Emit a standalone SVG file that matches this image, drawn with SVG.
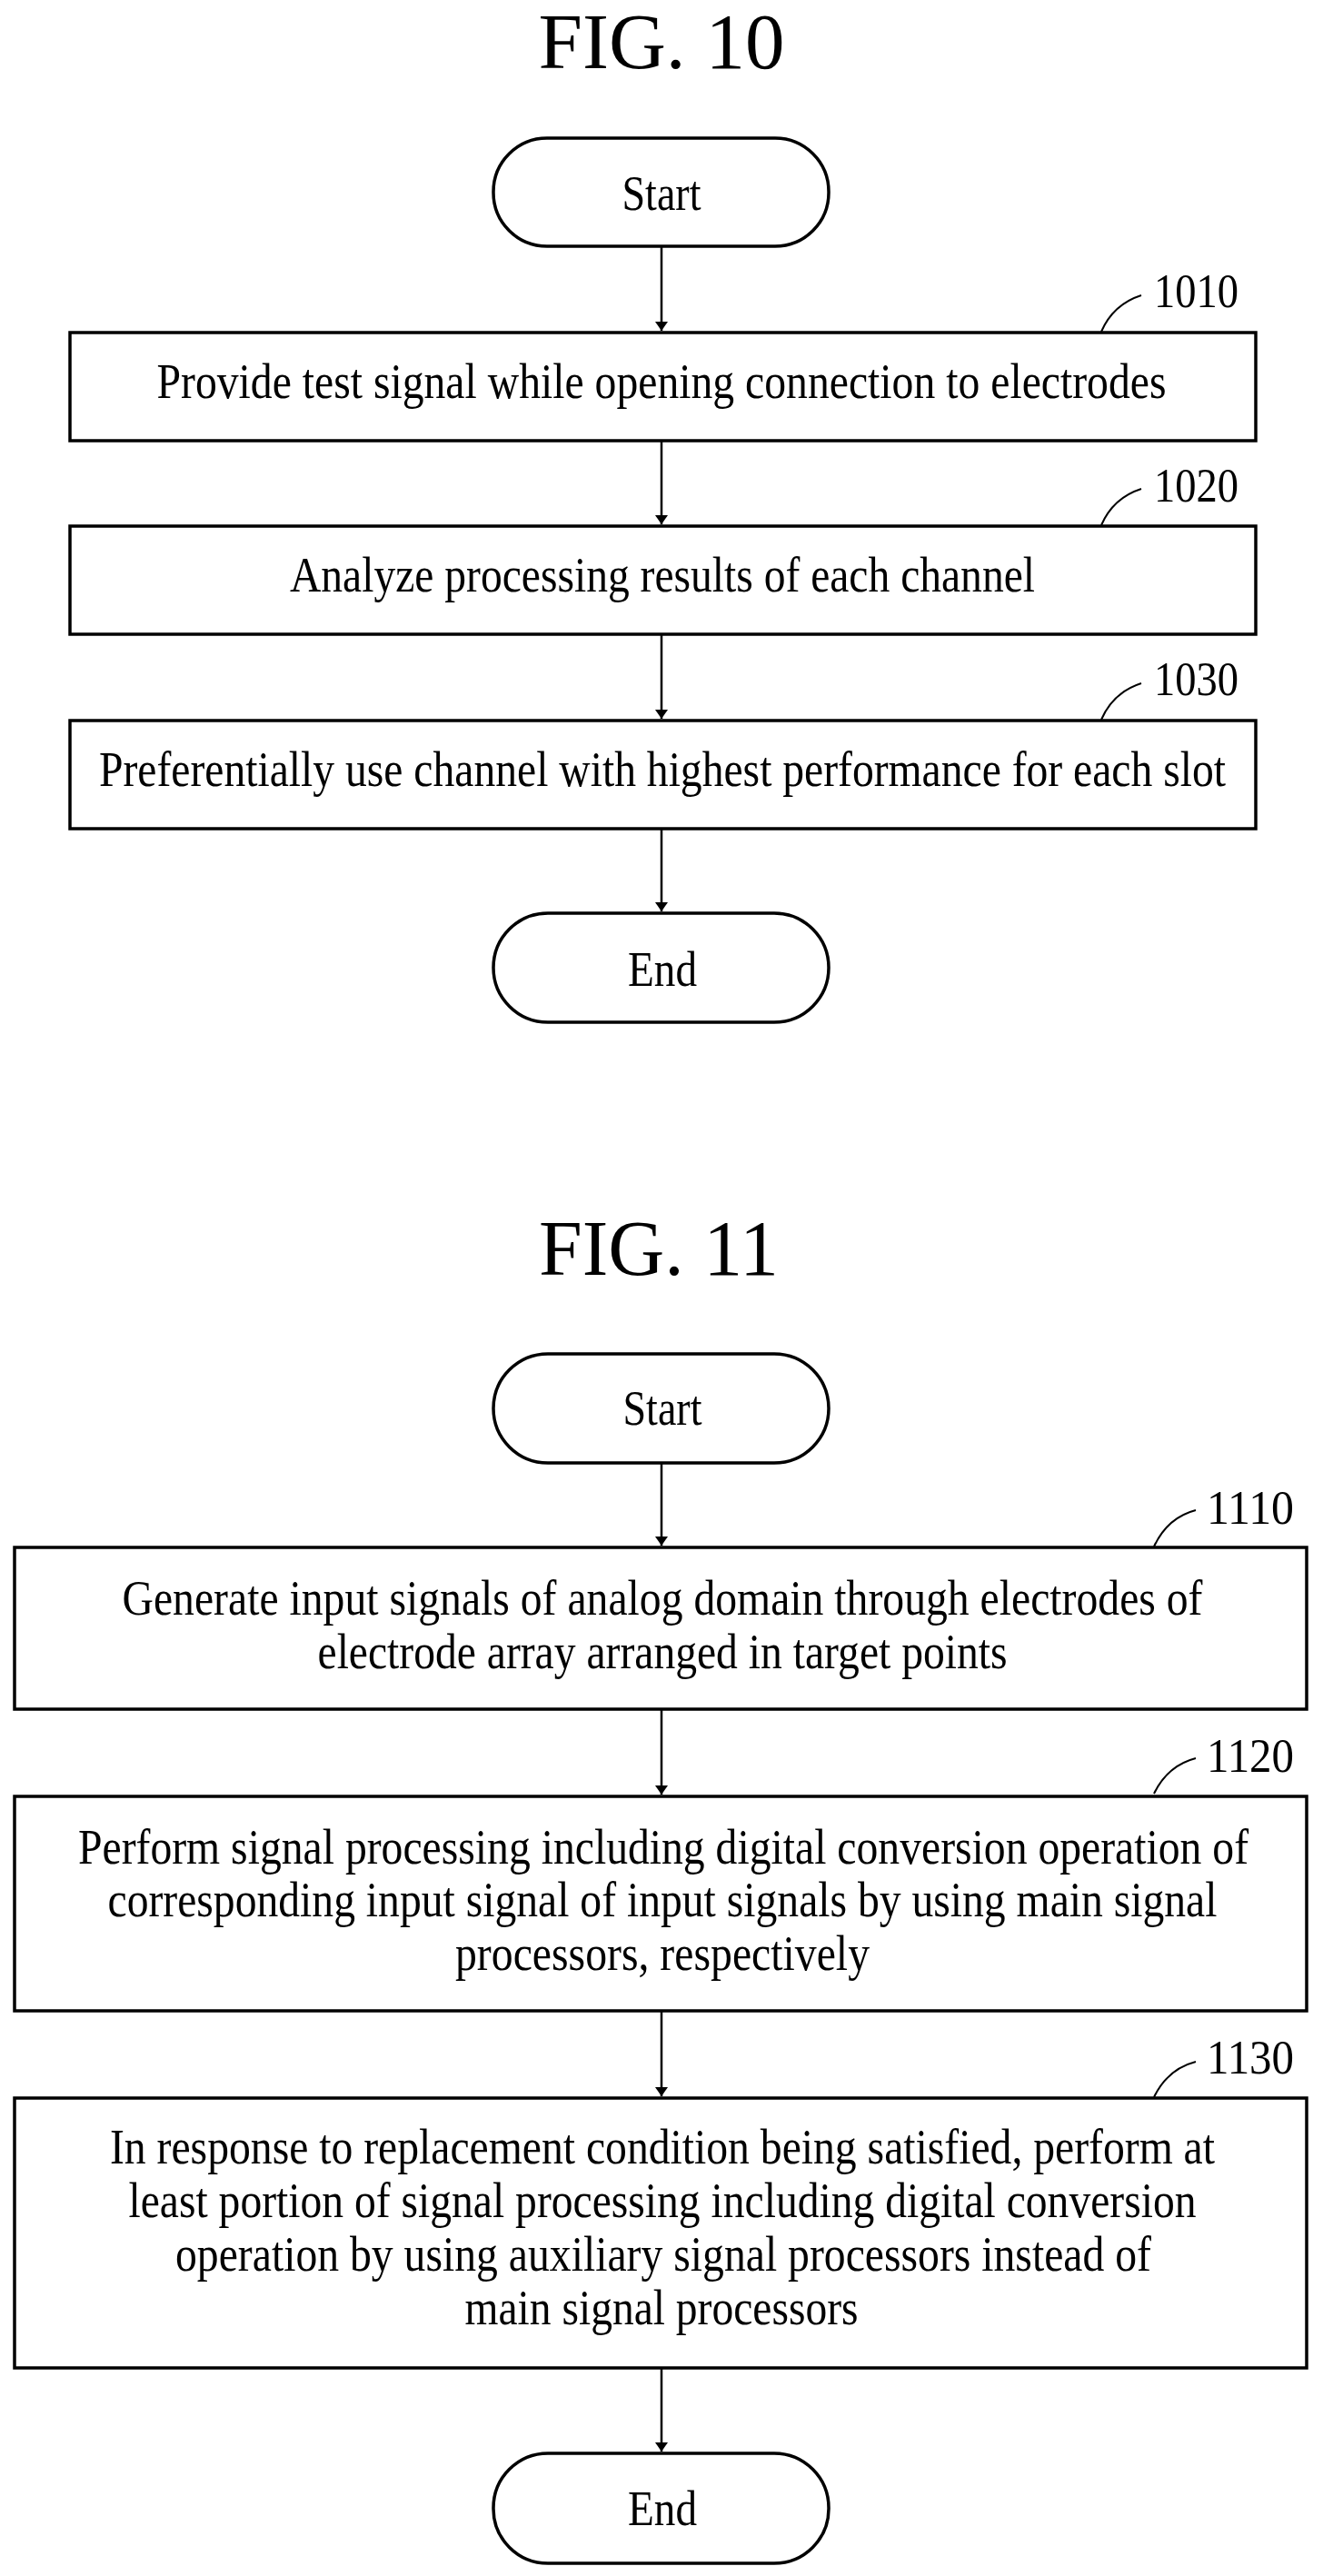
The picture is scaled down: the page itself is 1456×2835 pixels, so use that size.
<svg xmlns="http://www.w3.org/2000/svg" width="1456" height="2835" viewBox="0 0 1456 2835">
<defs>
<marker id="ah" viewBox="0 0 10 20" refX="10" refY="10" markerWidth="10" markerHeight="20" markerUnits="userSpaceOnUse" orient="auto">
<path d="M0,3 L10,10 L0,17 Z" fill="#000"/>
</marker>
<style>
.b{fill:#fff;stroke:#000;stroke-width:3.5}
.t{font-family:"Liberation Serif","Times New Roman",serif;font-size:54px;text-anchor:middle;fill:#000}
.h{font-family:"Liberation Serif","Times New Roman",serif;font-size:86px;text-anchor:middle;fill:#000}
.l{font-family:"Liberation Serif","Times New Roman",serif;font-size:52px;fill:#000}
.c{fill:none;stroke:#000;stroke-width:2.5}
.k{fill:none;stroke:#000;stroke-width:2}
</style>
</defs>
<text class="h" x="728" y="75" textLength="271" lengthAdjust="spacingAndGlyphs">FIG. 10</text>
<text class="h" x="725" y="1403" textLength="264" lengthAdjust="spacingAndGlyphs">FIG. 11</text>
<g id="connectors">
<line class="c" x1="728" y1="271" x2="728" y2="364" marker-end="url(#ah)"/>
<line class="c" x1="728" y1="485" x2="728" y2="577" marker-end="url(#ah)"/>
<line class="c" x1="728" y1="698" x2="728" y2="791" marker-end="url(#ah)"/>
<line class="c" x1="728" y1="912" x2="728" y2="1003" marker-end="url(#ah)"/>
<line class="c" x1="728" y1="1610" x2="728" y2="1701" marker-end="url(#ah)"/>
<line class="c" x1="728" y1="1881" x2="728" y2="1975" marker-end="url(#ah)"/>
<line class="c" x1="728" y1="2213" x2="728" y2="2307" marker-end="url(#ah)"/>
<line class="c" x1="728" y1="2606" x2="728" y2="2698" marker-end="url(#ah)"/>
</g>
<g id="start10"><rect class="b" x="543" y="152" width="369" height="119" rx="59"/><text class="t" x="728" y="231" textLength="87" lengthAdjust="spacingAndGlyphs">Start</text></g>
<g id="n1010"><rect class="b" x="77" y="366" width="1305" height="119"/><text class="t" x="728" y="438" textLength="1111" lengthAdjust="spacingAndGlyphs">Provide test signal while opening connection to electrodes</text>
<path class="k" d="M1212,365 Q1225,335 1256,325"/><text class="l" x="1270" y="338" textLength="93" lengthAdjust="spacingAndGlyphs">1010</text></g>
<g id="n1020"><rect class="b" x="77" y="579" width="1305" height="119"/><text class="t" x="729" y="651" textLength="820" lengthAdjust="spacingAndGlyphs">Analyze processing results of each channel</text>
<path class="k" d="M1212,578 Q1225,548 1256,538"/><text class="l" x="1270" y="552" textLength="93" lengthAdjust="spacingAndGlyphs">1020</text></g>
<g id="n1030"><rect class="b" x="77" y="793" width="1305" height="119"/><text class="t" x="729" y="865" textLength="1240" lengthAdjust="spacingAndGlyphs">Preferentially use channel with highest performance for each slot</text>
<path class="k" d="M1212,792 Q1225,762 1256,752"/><text class="l" x="1270" y="765" textLength="93" lengthAdjust="spacingAndGlyphs">1030</text></g>
<g id="end10"><rect class="b" x="543" y="1005" width="369" height="120" rx="60"/><text class="t" x="729" y="1085" textLength="76" lengthAdjust="spacingAndGlyphs">End</text></g>

<g id="start11"><rect class="b" x="543" y="1490" width="369" height="120" rx="60"/><text class="t" x="729" y="1568" textLength="87" lengthAdjust="spacingAndGlyphs">Start</text></g>
<g id="n1110"><rect class="b" x="16" y="1703" width="1422" height="178"/>
<text class="t" x="729" y="1777" textLength="1189" lengthAdjust="spacingAndGlyphs">Generate input signals of analog domain through electrodes of</text>
<text class="t" x="729" y="1836" textLength="759" lengthAdjust="spacingAndGlyphs">electrode array arranged in target points</text>
<path class="k" d="M1270,1702 Q1285,1670 1316,1662"/><text class="l" x="1328" y="1677" textLength="96" lengthAdjust="spacingAndGlyphs">1110</text></g>
<g id="n1120"><rect class="b" x="16" y="1977" width="1422" height="236"/>
<text class="t" x="730" y="2051" textLength="1288" lengthAdjust="spacingAndGlyphs">Perform signal processing including digital conversion operation of</text>
<text class="t" x="729" y="2109" textLength="1221" lengthAdjust="spacingAndGlyphs">corresponding input signal of input signals by using main signal</text>
<text class="t" x="729" y="2168" textLength="456" lengthAdjust="spacingAndGlyphs">processors, respectively</text>
<path class="k" d="M1270,1974 Q1285,1943 1316,1935"/><text class="l" x="1328" y="1950" textLength="96" lengthAdjust="spacingAndGlyphs">1120</text></g>
<g id="n1130"><rect class="b" x="16" y="2309" width="1422" height="297"/>
<text class="t" x="729" y="2381" textLength="1216" lengthAdjust="spacingAndGlyphs">In response to replacement condition being satisfied, perform at</text>
<text class="t" x="729" y="2440" textLength="1175" lengthAdjust="spacingAndGlyphs">least portion of signal processing including digital conversion</text>
<text class="t" x="730" y="2499" textLength="1074" lengthAdjust="spacingAndGlyphs">operation by using auxiliary signal processors instead of</text>
<text class="t" x="728" y="2558" textLength="433" lengthAdjust="spacingAndGlyphs">main signal processors</text>
<path class="k" d="M1270,2308 Q1285,2277 1316,2269"/><text class="l" x="1328" y="2282" textLength="96" lengthAdjust="spacingAndGlyphs">1130</text></g>
<g id="end11"><rect class="b" x="543" y="2700" width="369" height="121" rx="60"/><text class="t" x="729" y="2779" textLength="76" lengthAdjust="spacingAndGlyphs">End</text></g>
</svg>
